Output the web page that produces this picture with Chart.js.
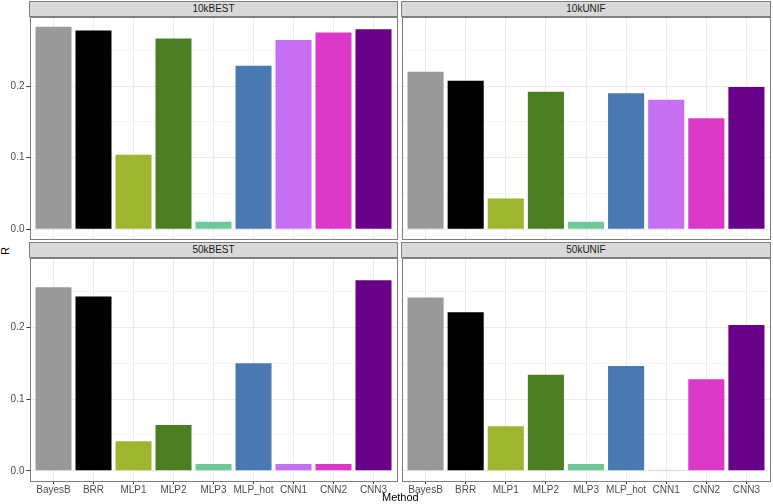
<!DOCTYPE html>
<html><head><meta charset="utf-8">
<script src="https://cdn.jsdelivr.net/npm/chart.js@4/dist/chart.umd.min.js"></script>
<style>
html,body{margin:0;padding:0;background:#fff;}
#wrap{position:relative;width:773px;height:504px;overflow:hidden;font-family:"Liberation Sans",Arial,sans-serif;}
.cv{position:absolute;}
.strip{position:absolute;box-sizing:border-box;background:#d9d9d9;border:1px solid #7f7f7f;color:#1a1a1a;font-size:10px;text-align:center;line-height:14px;}
.ttl{position:absolute;color:#000;font-size:11px;}
</style></head><body>
<div id="wrap">
  <div class="cv" style="left:0;top:15px;width:400px;height:226px"><canvas id="c0"></canvas></div>
  <div class="cv" style="left:390px;top:15px;width:383px;height:226px"><canvas id="c1"></canvas></div>
  <div class="cv" style="left:0;top:255.5px;width:400px;height:248.5px"><canvas id="c2"></canvas></div>
  <div class="cv" style="left:390px;top:255.5px;width:383px;height:248.5px"><canvas id="c3"></canvas></div>
  <div class="strip" style="left:29px;top:1px;width:369px;height:16px">10kBEST</div>
  <div class="strip" style="left:401px;top:1px;width:370px;height:16px">10kUNIF</div>
  <div class="strip" style="left:29px;top:241.5px;width:369px;height:16px">50kBEST</div>
  <div class="strip" style="left:401px;top:241.5px;width:370px;height:16px">50kUNIF</div>
  <div class="ttl" style="left:382px;top:491px;">Method</div>
  <div class="ttl" style="left:1px;top:245px;transform:rotate(-90deg);">R</div>
</div>
<script>
const methods = ["BayesB","BRR","MLP1","MLP2","MLP3","MLP_hot","CNN1","CNN2","CNN3"];
const colors = ["#999999","#000000","#9db52f","#4b7f21","#6dca98","#4a78b0","#c66ff0","#db38c8","#690088"];
const panels = ["10kBEST","10kUNIF","50kBEST","50kUNIF"];
const r10kBEST = [0.283,0.2775,0.104,0.2665,0.0105,0.2285,0.2645,0.2748,0.2795];
const r10kUNIF = [0.220,0.2075,0.0432,0.1922,0.0105,0.190,0.181,0.155,0.1986];
const r50kBEST = [0.2558,0.2428,0.0413,0.064,0.0095,0.150,0.0095,0.0095,0.2655];
const r50kUNIF = [0.2414,0.221,0.0622,0.134,0.0095,0.146,0.001,0.1277,0.203];
const series = [r10kBEST,r10kUNIF,r50kBEST,r50kUNIF];
const yTop = 0.283;
const yMin = -0.05*yTop, yMax = yTop*1.05;

const borderPlugin = {
  id:'panelBorder',
  afterDraw(chart){
    const a = chart.chartArea, ctx = chart.ctx;
    ctx.save();
    ctx.strokeStyle = '#7f7f7f';
    ctx.lineWidth = 1;
    ctx.strokeRect(Math.round(a.left)+0.5, Math.round(a.top)+0.5, Math.round(a.right-a.left)-1, Math.round(a.bottom-a.top)-1);
    ctx.restore();
  }
};

function isMajor(v){ return Math.abs(v*10 - Math.round(v*10)) < 1e-6; }
function noPad(s){ s.paddingTop=0; s.paddingBottom=0; s.paddingLeft=0; s.paddingRight=0; }

function makeChart(idx){
  const left = idx % 2 === 0;
  const bottom = idx >= 2;
  const vals = series[idx];
  new Chart(document.getElementById('c'+idx), {
    type:'bar',
    data:{
      datasets:[{
        data: vals.map((v,i)=>({x:i+1,y:v})),
        backgroundColor: colors,
        borderWidth:0,
        barPercentage:0.9,
        categoryPercentage:1
      }]
    },
    options:{
      responsive:true, maintainAspectRatio:false, animation:false,
      layout:{padding:{top:1.5,right:2.5,bottom:bottom?0:1.5,left:0}},
      plugins:{legend:{display:false},tooltip:{enabled:false}},
      scales:{
        x:{
          type:'linear', min:0.4, max:9.6, offset:false,
          afterBuildTicks(s){ s.ticks = methods.map((m,i)=>({value:i+1})); },
          afterFit(s){ s.height = bottom ? 23.5 : 0; noPad(s); },
          grid:{offset:false,color:'#ebebeb',lineWidth:1,drawTicks:bottom,tickLength:3,tickColor:'#333333'},
          border:{display:false},
          ticks:{display:bottom,autoSkip:false,maxRotation:0,padding:0,color:'#4d4d4d',
            font:{family:'Liberation Sans',size:10},
            callback:(v)=>methods[Math.round(v)-1]}
        },
        y:{
          min:yMin, max:yMax,
          afterFit(s){ s.width = left ? 29.5 : 11.5; noPad(s); },
          grid:{
            color:'#ebebeb',
            lineWidth:(c)=> (c.tick && isMajor(c.tick.value)) ? 1 : 0.5,
            drawTicks:left, tickLength:3,
            tickColor:(c)=> (c.tick && isMajor(c.tick.value)) ? '#333333' : 'rgba(0,0,0,0)'
          },
          border:{display:false},
          ticks:{display:left,stepSize:0.05,includeBounds:false,padding:2,color:'#4d4d4d',
            font:{family:'Liberation Sans',size:10},
            callback:(v)=> isMajor(v) ? v.toFixed(1) : ''}
        }
      }
    },
    plugins:[borderPlugin]
  });
}
[0,1,2,3].forEach(makeChart);
</script>
</body></html>
